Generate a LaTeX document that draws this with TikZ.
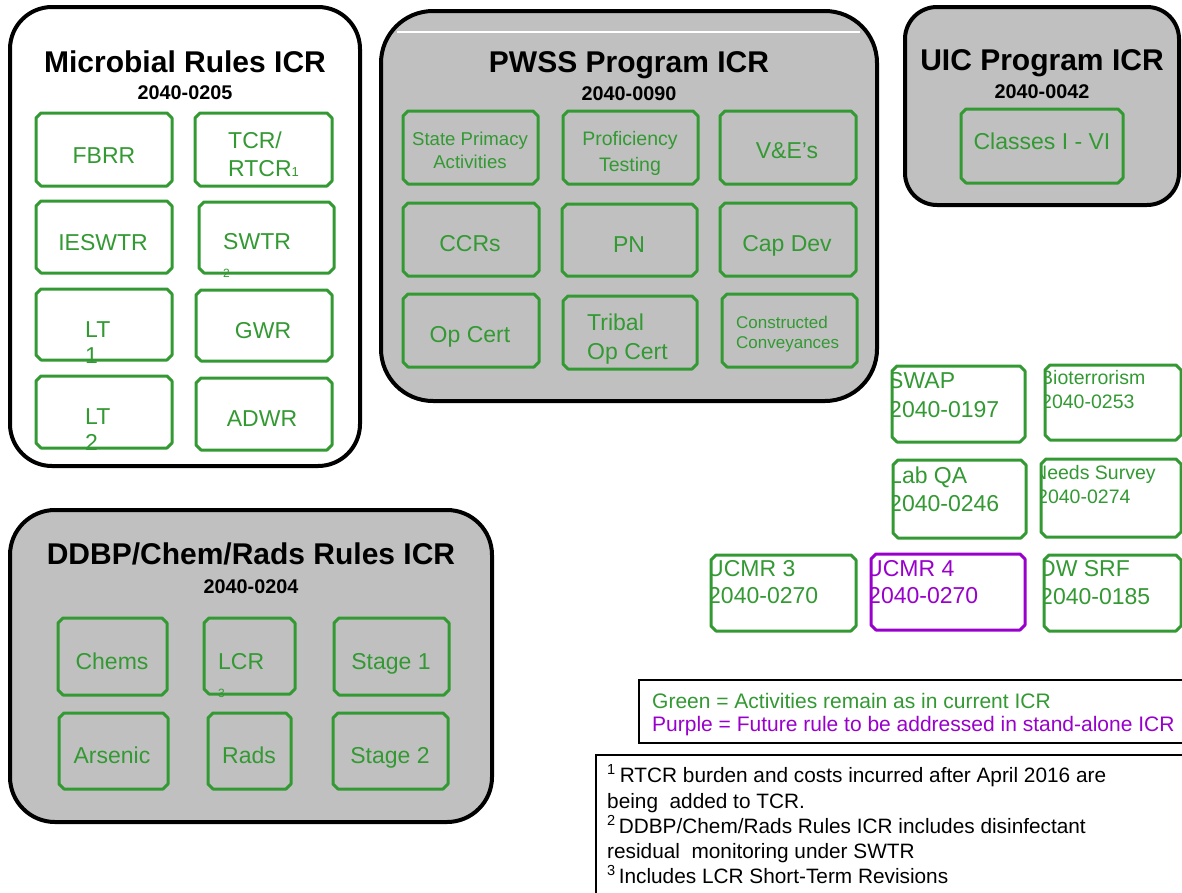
\documentclass[tikz,border=0pt]{standalone}
\usepackage{fontspec}
\setmainfont{Liberation Sans}
\definecolor{gr}{RGB}{51,153,51}
\definecolor{pu}{RGB}{153,0,204}
\definecolor{gy}{RGB}{192,192,192}
\newcommand\fsz[1]{\fontsize{#1}{#1}\selectfont}
\newcommand\chbox[5]{\draw[#1] (#2+5,#3) -- (#4-5,#3) -- (#4,#3+5) -- (#4,#5-5) -- (#4-5,#5) -- (#2+5,#5) -- (#2,#5-5) -- (#2,#3+5) -- cycle;}
\tikzset{
  icr/.style={draw=black, line width=4pt},
  gbox/.style={draw=gr, line width=3pt, line join=round},
  pbox/.style={draw=pu, line width=3pt, line join=round},
  gtxt/.style={text=gr, font=\fsz{23}, inner sep=0pt, anchor=base},
  gl/.style={gtxt, anchor=base west},
  gs/.style={text=gr, font=\fsz{19.5}, inner sep=0pt, anchor=base},
  gsl/.style={gs, anchor=base west},
  ttl/.style={font=\bfseries\fsz{30}, inner sep=0pt, anchor=base},
  num/.style={font=\bfseries\fsz{19.8}, inner sep=0pt, anchor=base},
  ft/.style={font=\fsz{20.8}, inner sep=0pt, anchor=base west},
}
\begin{document}
\begin{tikzpicture}[x=1pt,y=-1pt]
\useasboundingbox (0,0) rectangle (1182,892);
\fill[white] (0,0) rectangle (1182,892);

% ---------- containers ----------
\draw[icr, fill=white, rounded corners=42pt] (10,7) rectangle (360,466);
\draw[icr, fill=gy, rounded corners=52pt] (381,11) rectangle (877,401);
\draw[white, line width=2.5pt] (397,32) -- (860,32);
\draw[icr, fill=gy, rounded corners=32pt] (905,7) rectangle (1179,205);
\draw[icr, fill=gy, rounded corners=45pt] (10,510) rectangle (492,822);

% ---------- Microbial ----------
\node[ttl] (mt) at (185,72) {Microbial Rules ICR};
\node[num] (mn) at (185,99) {2040-0205};
\node[gtxt] (fbrr) at (104,163) {FBRR};
\node[gl] (tcr) at (228,148) {TCR/};
\node[gl] (rtcr) at (228,176) {RTCR{\fsz{13}1}};
\node[gtxt] (ieswtr) at (103,250) {IESWTR};
\node[gl] (swtr) at (223,249) {SWTR};
\node[text=gr, font=\fsz{12}, inner sep=0pt, anchor=base west] (swtr2) at (223,277) {2};
\node[gl] (lt1) at (85,337) {LT};
\node[gl] (lt1n) at (85,363) {1};
\node[gtxt] (gwr) at (263,338) {GWR};
\node[gl] (lt2) at (85,424) {LT};
\node[gl] (lt2n) at (85,450) {2};
\node[gtxt] (adwr) at (262,426) {ADWR};
\chbox{gbox}{36}{113}{172}{186}
\chbox{gbox}{195}{113}{332}{186}
\chbox{gbox}{36}{201}{172}{273}
\chbox{gbox}{199}{202}{334}{273}
\chbox{gbox}{36}{289}{172}{360}
\chbox{gbox}{196}{290}{332}{361}
\chbox{gbox}{36}{376}{172}{448}
\chbox{gbox}{196}{378}{332}{450}

% ---------- PWSS ----------
\node[ttl] (pt) at (629,72) {PWSS Program ICR};
\node[num] (pn) at (629,100) {2040-0090};
\node[text=gr, font=\fsz{18.6}, inner sep=0pt, anchor=base] (spa1) at (470,145) {State Primacy};
\node[text=gr, font=\fsz{18.6}, inner sep=0pt, anchor=base] (spa2) at (470,168) {Activities};
\node[gs] (pt1) at (630,145) {Proficiency};
\node[gs] (pt2) at (630,171) {Testing};
\node[gtxt] (ve) at (787,158) {V\&E’s};
\node[gtxt] (ccr) at (470,251) {CCRs};
\node[gtxt] (pnn) at (629,252) {PN};
\node[gtxt] (cap) at (787,251) {Cap Dev};
\node[gtxt] (opc) at (470,342) {Op Cert};
\node[gl] (trb1) at (587,330) {Tribal};
\node[gl] (trb2) at (587,359) {Op Cert};
\node[text=gr, font=\fsz{17}, inner sep=0pt, anchor=base west] (cc1) at (736,328) {Constructed};
\node[text=gr, font=\fsz{17}, inner sep=0pt, anchor=base west] (cc2) at (736,348) {Conveyances};
\chbox{gbox}{403}{111}{538}{184}
\chbox{gbox}{563}{111}{698}{184}
\chbox{gbox}{720}{111}{856}{184}
\chbox{gbox}{403}{203}{539}{276}
\chbox{gbox}{562}{204}{697}{276}
\chbox{gbox}{720}{203}{856}{276}
\chbox{gbox}{403}{294}{539}{367}
\chbox{gbox}{563}{296}{697}{369}
\chbox{gbox}{722}{294}{857}{367}

% ---------- UIC ----------
\node[ttl] (ut) at (1042,70) {UIC Program ICR};
\node[num] (un) at (1042,98) {2040-0042};
\node[gtxt] (cls) at (1042,149) {Classes I - VI};
\chbox{gbox}{961}{109}{1123}{183}

% ---------- DDBP ----------
\node[ttl] (dt) at (251,564) {DDBP/Chem/Rads Rules ICR};
\node[num] (dn) at (251,593) {2040-0204};
\node[gtxt] (chm) at (112,669) {Chems};
\node[gl] (lcr) at (218,669) {LCR};
\node[text=gr, font=\fsz{12}, inner sep=0pt, anchor=base west] (lcr3) at (218,697) {3};
\node[gtxt] (st1) at (391,669) {Stage 1};
\node[gtxt] (ars) at (112,763) {Arsenic};
\node[gtxt] (rds) at (249,763) {Rads};
\node[gtxt] (st2) at (390,763) {Stage 2};
\chbox{gbox}{58}{618}{167}{695}
\chbox{gbox}{204}{618}{295}{694}
\chbox{gbox}{334}{618}{449}{695}
\chbox{gbox}{59}{713}{168}{789}
\chbox{gbox}{208}{713}{291}{789}
\chbox{gbox}{333}{713}{448}{789}

% ---------- stand-alone ICRs ----------
\begin{scope}
\clip (892,366) rectangle (1025,442);
\node[gl] (swap1) at (888,388) {SWAP};
\node[gl] (swap2) at (889,417) {2040-0197};
\end{scope}
\chbox{gbox}{892}{366}{1025}{442}
\begin{scope}
\clip (1045,365) rectangle (1181,440);
\node[gsl] (bio1) at (1040,384) {Bioterrorism};
\node[gsl] (bio2) at (1041,408) {2040-0253};
\end{scope}
\chbox{gbox}{1045}{365}{1181}{440}
\begin{scope}
\clip (893,460) rectangle (1026,538);
\node[gl] (lab1) at (889,483) {Lab QA};
\node[gl] (lab2) at (889,511) {2040-0246};
\end{scope}
\chbox{gbox}{893}{460}{1026}{538}
\begin{scope}
\clip (1041,459) rectangle (1181,537);
\node[gsl] (nds1) at (1033,479) {Needs Survey};
\node[gsl] (nds2) at (1037,503) {2040-0274};
\end{scope}
\chbox{gbox}{1041}{459}{1181}{537}
\begin{scope}
\clip (711,555) rectangle (856,631);
\node[gl] (uc31) at (707,576) {UCMR 3};
\node[gl] (uc32) at (708,603) {2040-0270};
\end{scope}
\chbox{gbox}{711}{555}{856}{631}
\begin{scope}
\clip (871,554) rectangle (1025,630);
\node[gl, text=pu] (uc41) at (866,576) {UCMR 4};
\node[gl, text=pu] (uc42) at (868,603) {2040-0270};
\end{scope}
\chbox{pbox}{871}{554}{1025}{630}
\begin{scope}
\clip (1044,555) rectangle (1181,631);
\node[gl] (srf1) at (1039,576) {DW SRF};
\node[gl] (srf2) at (1040,604) {2040-0185};
\end{scope}
\chbox{gbox}{1044}{555}{1181}{631}

% ---------- legend ----------
\draw[line width=1.2pt] (639,680) rectangle (1195,743);
\node[ft, font=\fsz{21}, text=gr] (lg1) at (652,708) {Green = Activities remain as in current ICR};
\node[ft, font=\fsz{21}, text=pu] (lg2) at (652,731) {Purple = Future rule to be addressed in stand-alone ICR};

% ---------- footnotes ----------
\draw[line width=1.2pt] (596,755) rectangle (1195,900);
\node[ft] (fn1) at (607,782) {\textsuperscript{1}\kern4pt RTCR burden and costs incurred after April 2016 are};
\node[ft] (fn2) at (607,808) {being\ \ added to TCR.};
\node[ft] (fn3) at (607,833) {\textsuperscript{2}\kern3pt DDBP/Chem/Rads Rules ICR includes disinfectant};
\node[ft] (fn4) at (607,858) {residual\ \ monitoring under SWTR};
\node[ft] (fn5) at (607,883) {\textsuperscript{3}\kern3pt Includes LCR Short-Term Revisions};
\end{tikzpicture}
\end{document}
